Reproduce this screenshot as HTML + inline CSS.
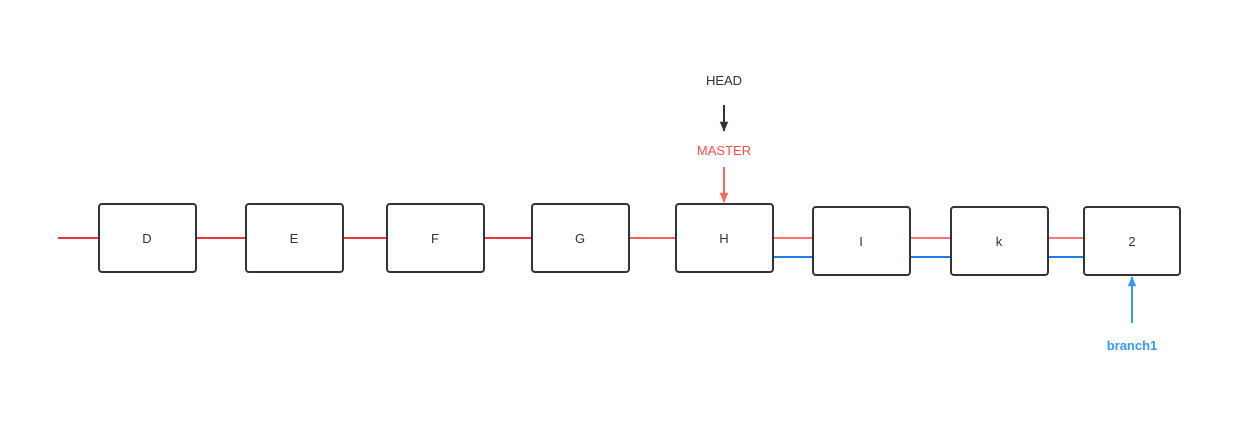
<!DOCTYPE html>
<html><head><meta charset="utf-8"><style>
body{margin:0;background:#fff;}
svg{display:block;font-family:"Liberation Sans",sans-serif;}
</style></head><body>
<svg width="1240" height="427" viewBox="0 0 1240 427">
<defs>
<marker id="ab" markerWidth="10" markerHeight="12" refX="13" refY="6" orient="auto" markerUnits="userSpaceOnUse" viewBox="0 0 14 12"><path d="M0,0 L14,6 L0,12 Z" fill="#333"/></marker>
<marker id="ar" markerWidth="10" markerHeight="12" refX="13" refY="6" orient="auto" markerUnits="userSpaceOnUse" viewBox="0 0 14 12"><path d="M0,0 L14,6 L0,12 Z" fill="#ff6666"/></marker>
<marker id="au" markerWidth="10" markerHeight="12" refX="13" refY="6" orient="auto" markerUnits="userSpaceOnUse" viewBox="0 0 14 12"><path d="M0,0 L14,6 L0,12 Z" fill="#3399ff"/></marker>
</defs>
<line x1="58" y1="238" x2="532" y2="238" stroke="#e23a3a" stroke-width="2"/>
<line x1="629" y1="238" x2="676" y2="238" stroke="#f06060" stroke-width="2"/>
<line x1="773" y1="238" x2="1084" y2="238" stroke="#ff7373" stroke-width="2"/>
<line x1="773" y1="257" x2="1084" y2="257" stroke="#1a7fe6" stroke-width="2"/>
<g fill="#fff" stroke="#333" stroke-width="2">
<rect x="99" y="204" width="97" height="68" rx="3"/>
<rect x="246" y="204" width="97" height="68" rx="3"/>
<rect x="387" y="204" width="97" height="68" rx="3"/>
<rect x="532" y="204" width="97" height="68" rx="3"/>
<rect x="676" y="204" width="97" height="68" rx="3"/>
<rect x="813" y="207" width="97" height="68" rx="3"/>
<rect x="951" y="207" width="97" height="68" rx="3"/>
<rect x="1084" y="207" width="96" height="68" rx="3"/>
</g>
<g fill="#333" font-size="13" text-anchor="middle">
<text x="147" y="243">D</text>
<text x="294" y="243">E</text>
<text x="435" y="243">F</text>
<text x="580" y="243">G</text>
<text x="724" y="243">H</text>
<text x="861" y="246">I</text>
<text x="999" y="246">k</text>
<text x="1132" y="246">2</text>
<text x="724" y="85">HEAD</text>
</g>
<line x1="724" y1="105" x2="724" y2="131" stroke="#333" stroke-width="2" marker-end="url(#ab)"/>
<text x="724" y="155" fill="#ff4d4d" font-size="13" text-anchor="middle">MASTER</text>
<line x1="724" y1="167" x2="724" y2="202" stroke="#ff6666" stroke-width="2" marker-end="url(#ar)"/>
<line x1="1132" y1="323" x2="1132" y2="277" stroke="#3399ff" stroke-width="2" marker-end="url(#au)"/>
<text x="1132" y="350" fill="#3399ff" font-size="13" font-weight="bold" text-anchor="middle">branch1</text>
</svg>
</body></html>
